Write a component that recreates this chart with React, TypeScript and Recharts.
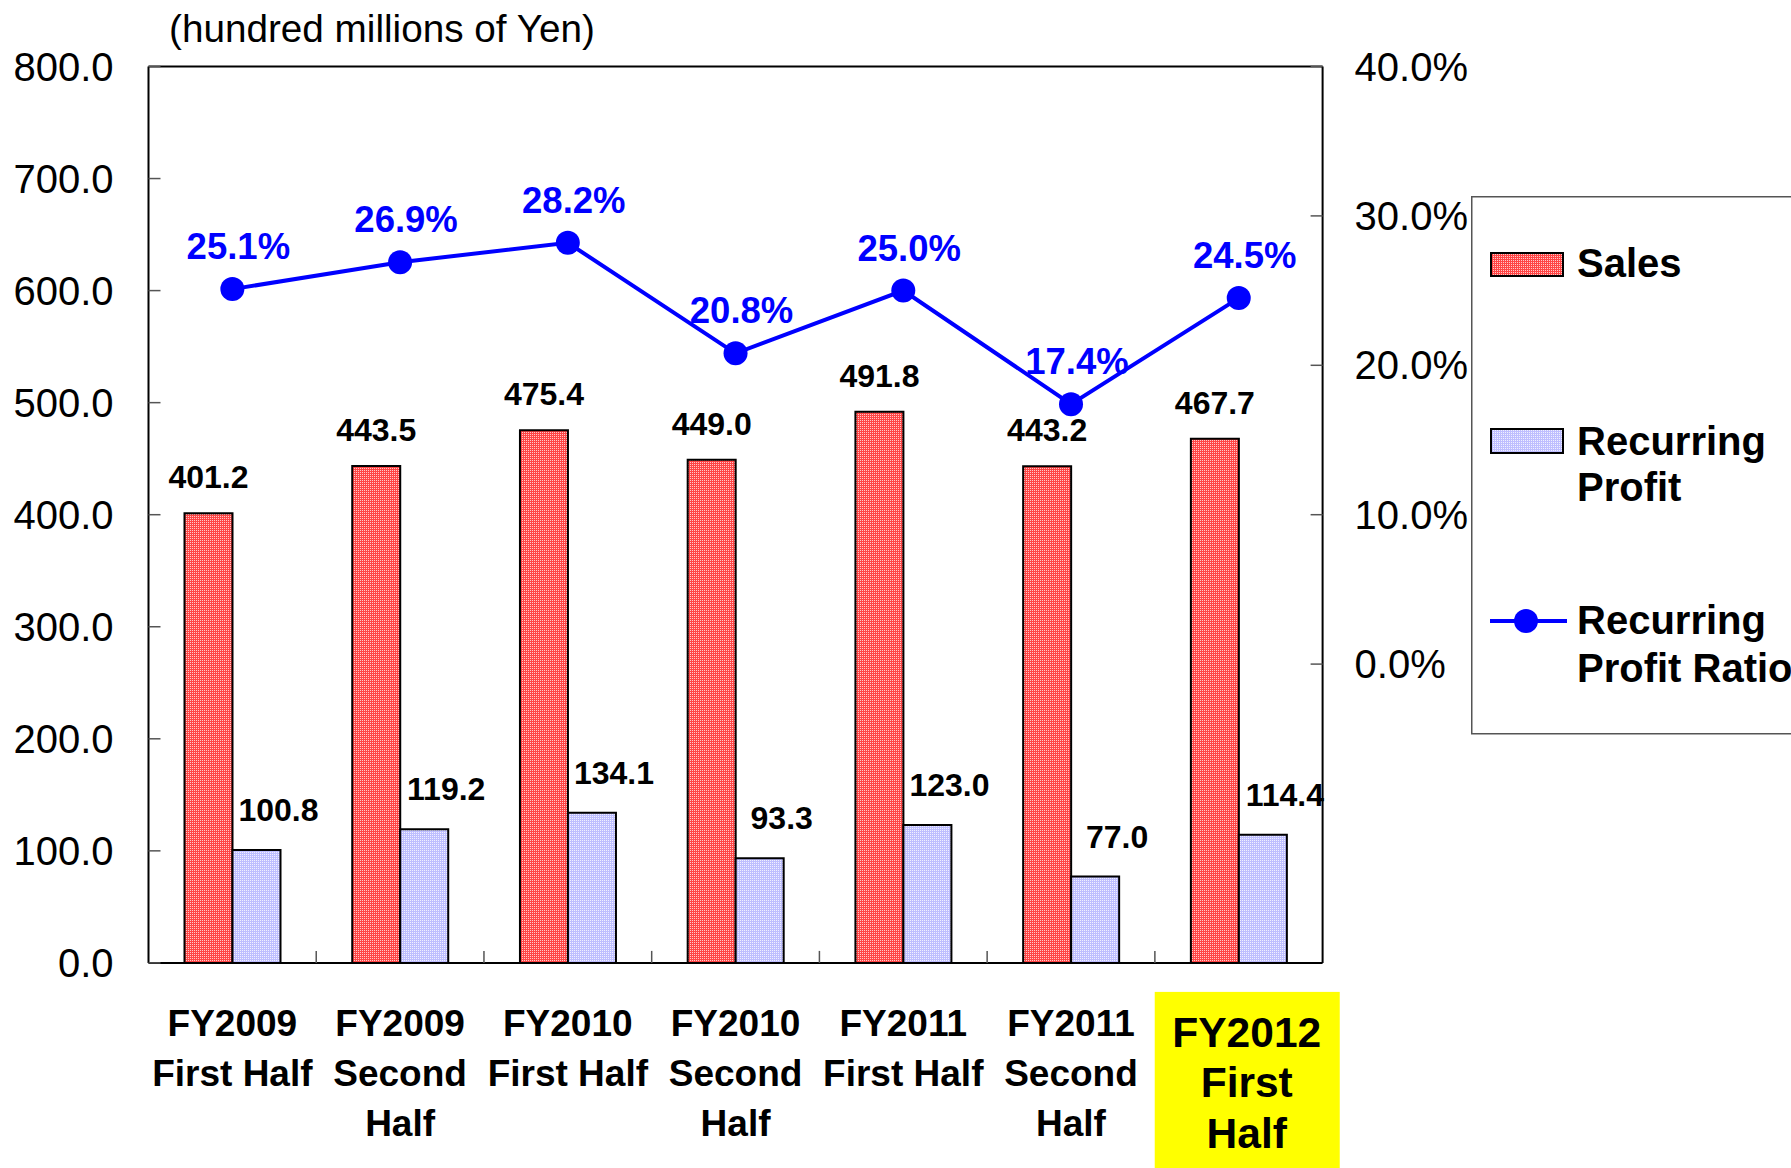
import React from 'react';
import { ComposedChart, Bar, Line, XAxis, YAxis, ReferenceLine, LabelList, Legend } from 'recharts';

const categories = [
  'FY2009\nFirst Half',
  'FY2009\nSecond\nHalf',
  'FY2010\nFirst Half',
  'FY2010\nSecond\nHalf',
  'FY2011\nFirst Half',
  'FY2011\nSecond\nHalf',
  'FY2012\nFirst\nHalf',
];
const sales = [401.2, 443.5, 475.4, 449.0, 491.8, 443.2, 467.7];
const recurringProfit = [100.8, 119.2, 134.1, 93.3, 123.0, 77.0, 114.4];
const profitRatio = [25.1, 26.9, 28.2, 20.8, 25.0, 17.4, 24.5];
const leftTicks = [0, 100, 200, 300, 400, 500, 600, 700, 800];
const rightTicks = [0, 10, 20, 30, 40];
const highlightIndex = 6;
const unitTitle = '(hundred millions of Yen)';

const data = categories.map((name, i) => ({
  name,
  sales: sales[i],
  profit: recurringProfit[i],
  ratio: profitRatio[i],
}));

const W = 1791;
const H = 1168;
const PLOT_LEFT = 148.5;
const PLOT_RIGHT = 1322.6;
const PLOT_TOP = 66.5;
const PLOT_BOTTOM = 962.9;
const BAND = (PLOT_RIGHT - PLOT_LEFT) / categories.length;
const FONT = '"Liberation Sans", Arial, sans-serif';

const LeftTick = (props: any) => {
  const { y, payload } = props;
  return (
    <g>
      <line x1={PLOT_LEFT} x2={PLOT_LEFT + 12} y1={y} y2={y} stroke="#555" strokeWidth={1.5} />
      <text x={PLOT_LEFT - 35} y={y} textAnchor="end" dominantBaseline="central" fontSize={40} fontFamily={FONT} fill="#000">
        {Number(payload.value).toFixed(1)}
      </text>
    </g>
  );
};

const RightTick = (props: any) => {
  const { y, payload } = props;
  return (
    <g>
      <line x1={PLOT_RIGHT - 12} x2={PLOT_RIGHT} y1={y} y2={y} stroke="#555" strokeWidth={1.5} />
      <text x={PLOT_RIGHT + 32} y={y} textAnchor="start" dominantBaseline="central" fontSize={40} fontFamily={FONT} fill="#000">
        {Number(payload.value).toFixed(1) + '%'}
      </text>
    </g>
  );
};

const XTick = (props: any) => {
  const { x, y, payload, index } = props;
  const lines = String(payload.value).split('\n');
  const hl = index === highlightIndex;
  return (
    <g>
      {index < categories.length - 1 && (
        <line x1={x + BAND / 2} x2={x + BAND / 2} y1={y - 12} y2={y} stroke="#555" strokeWidth={1.5} />
      )}
      {hl && <rect x={x - 84} y={y + 29} width={185} height={H - (y + 29)} fill="#FFFF00" />}
      <text textAnchor="middle" fontWeight="bold" fontSize={hl ? 42.5 : 37} fontFamily={FONT} fill="#000">
        {lines.map((l, i) => (
          <tspan key={i} x={hl ? x + 8 : x} y={y + (hl ? 84 : 73.5) + i * (hl ? 50.5 : 50)}>
            {l}
          </tspan>
        ))}
      </text>
    </g>
  );
};

const getBox = (props: any) => {
  const vb = props.viewBox || {};
  return {
    x: props.x ?? vb.x,
    y: props.y ?? vb.y,
    width: props.width ?? vb.width ?? 0,
  };
};

const SalesLabel = (props: any) => {
  const { x, y, width } = getBox(props);
  return (
    <text x={x + width / 2} y={y - 25} textAnchor="middle" fontWeight="bold" fontSize={32} fontFamily={FONT} fill="#000">
      {Number(props.value).toFixed(1)}
    </text>
  );
};

const ProfitLabel = (props: any) => {
  const { x, y, width } = getBox(props);
  return (
    <text x={x + width / 2 + 22} y={y - 29} textAnchor="middle" fontWeight="bold" fontSize={32} fontFamily={FONT} fill="#000">
      {Number(props.value).toFixed(1)}
    </text>
  );
};

const RatioLabel = (props: any) => {
  const { x, y } = getBox(props);
  return (
    <text x={x + 6} y={y - 30} textAnchor="middle" fontWeight="bold" fontSize={36.5} fontFamily={FONT} fill="#0000FF">
      {Number(props.value).toFixed(1) + '%'}
    </text>
  );
};

const Patterns = ({ prefix }: { prefix: string }) => (
  <defs>
    <pattern id={prefix + 'red'} width="2" height="2" patternUnits="userSpaceOnUse">
      <rect width="2" height="2" fill="#FF4545" />
      <rect width="1" height="1" fill="#FFC8C8" />
    </pattern>
    <pattern id={prefix + 'blue'} width="2" height="2" patternUnits="userSpaceOnUse">
      <rect width="2" height="2" fill="#BEBEFF" />
      <rect width="1" height="1" fill="#F0F0FF" />
    </pattern>
  </defs>
);

const LEG_X = 1471;
const LEG_Y = 196;

const LegendContent = () => (
  <svg width={330} height={540} style={{ display: 'block', overflow: 'visible' }}>
    <Patterns prefix="leg" />
    <rect x={0.75} y={0.75} width={360} height={537} fill="#fff" stroke="#555" strokeWidth={1.5} />
    <rect x={20} y={57} width={72} height={23} fill="url(#legred)" stroke="#000" strokeWidth={2} />
    <text x={106} y={81} fontWeight="bold" fontSize={40} fontFamily={FONT} fill="#000">Sales</text>
    <rect x={20} y={233} width={72} height={24} fill="url(#legblue)" stroke="#000" strokeWidth={2} />
    <text fontWeight="bold" fontSize={40} fontFamily={FONT} fill="#000">
      <tspan x={106} y={259}>Recurring</tspan>
      <tspan x={106} y={305}>Profit</tspan>
    </text>
    <line x1={19} x2={96} y1={425} y2={425} stroke="#0000FF" strokeWidth={4} />
    <circle cx={55} cy={425} r={12} fill="#0000FF" />
    <text fontWeight="bold" fontSize={40} fontFamily={FONT} fill="#000">
      <tspan x={106} y={438}>Recurring</tspan>
      <tspan x={106} y={486}>Profit Ratio</tspan>
    </text>
  </svg>
);

export default function App() {
  return (
    <div style={{ position: 'absolute', left: 0, top: 0, width: W, height: H, overflow: 'hidden', background: '#fff' }}>
      <ComposedChart
        width={W}
        height={H}
        data={data}
        margin={{ top: PLOT_TOP, right: 0, bottom: 0, left: 0 }}
        barGap={0}
      >
        <Patterns prefix="ch" />
        <XAxis
          dataKey="name"
          xAxisId="x"
          height={H - PLOT_BOTTOM}
          tickSize={0}
          tickMargin={0}
          interval={0}
          axisLine={{ stroke: '#000', strokeWidth: 2 }}
          tickLine={false}
          tick={<XTick />}
        />
        <YAxis
          yAxisId="left"
          orientation="left"
          width={PLOT_LEFT}
          domain={[0, 800]}
          ticks={leftTicks}
          interval={0}
          tickSize={0}
          tickMargin={35}
          axisLine={{ stroke: '#000', strokeWidth: 2 }}
          tickLine={false}
          tick={<LeftTick />}
        />
        <YAxis
          yAxisId="right"
          orientation="right"
          width={W - PLOT_RIGHT}
          domain={[-20, 40]}
          ticks={rightTicks}
          interval={0}
          tickSize={0}
          tickMargin={32}
          axisLine={{ stroke: '#000', strokeWidth: 2 }}
          tickLine={false}
          tick={<RightTick />}
        />
        <ReferenceLine xAxisId="x" yAxisId="left" y={800} stroke="#000" strokeWidth={2} />
        <Bar
          xAxisId="x"
          yAxisId="left"
          dataKey="sales"
          name="Sales"
          barSize={48}
          fill="url(#chred)"
          stroke="#000"
          strokeWidth={2}
          isAnimationActive={false}
        >
          <LabelList dataKey="sales" content={<SalesLabel />} />
        </Bar>
        <Bar
          xAxisId="x"
          yAxisId="left"
          dataKey="profit"
          name="Recurring Profit"
          barSize={48}
          fill="url(#chblue)"
          stroke="#000"
          strokeWidth={2}
          isAnimationActive={false}
        >
          <LabelList dataKey="profit" content={<ProfitLabel />} />
        </Bar>
        <Line
          xAxisId="x"
          yAxisId="right"
          dataKey="ratio"
          name="Recurring Profit Ratio"
          stroke="#0000FF"
          strokeWidth={4}
          dot={{ r: 12, fill: '#0000FF', stroke: '#0000FF', strokeWidth: 0 }}
          activeDot={false}
          isAnimationActive={false}
        >
          <LabelList dataKey="ratio" content={<RatioLabel />} />
        </Line>
        <Legend
          layout="vertical"
          align="center"
          verticalAlign="middle"
          content={<LegendContent />}
          wrapperStyle={{ left: LEG_X, top: LEG_Y, width: 330, height: 540 }}
        />
      </ComposedChart>
      <svg width={700} height={60} style={{ position: 'absolute', left: 0, top: 0 }}>
        <text x={169} y={42} fontSize={38.7} fontFamily={FONT} fill="#000">{unitTitle}</text>
      </svg>
    </div>
  );
}
